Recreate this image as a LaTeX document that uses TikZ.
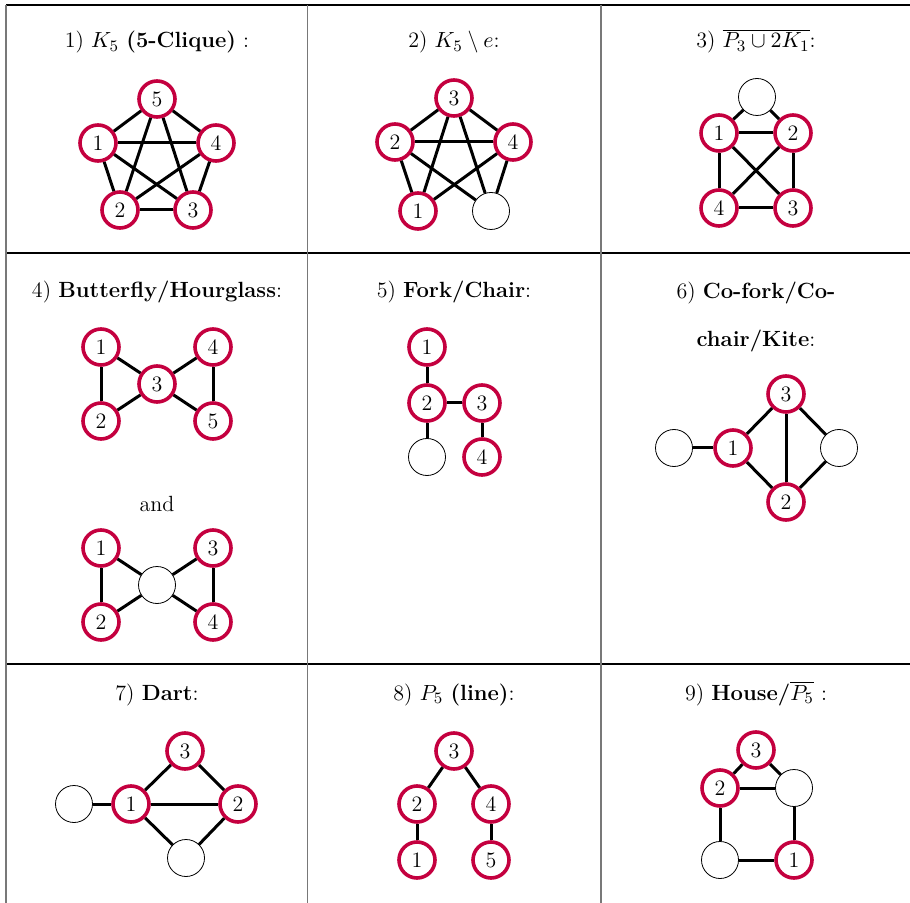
\documentclass[tikz,border=0pt]{standalone}
\usepackage{amsmath, amssymb}
\usepackage{tikz}
\usetikzlibrary{positioning}
\definecolor{VertexRed}{HTML}{C4003F}
\definecolor{RuleGray}{RGB}{120, 120, 120}

\begin{document}
\begin{tikzpicture}[x=0.5pt, y=-0.5pt, font=\fontsize{11pt}{13.6pt}\selectfont,
    vtx/.style={circle, draw=VertexRed, line width=1.8pt, fill=white, minimum size=18pt, inner sep=0pt},
    blank/.style={circle, draw=black, line width=0.4pt, fill=white, minimum size=18.5pt, inner sep=0pt},
    edge/.style={line width=1.5pt, black},
    title/.style={anchor=base, inner sep=0pt},
    rowline/.style={line width=0.7pt, black},
    colline/.style={line width=0.7pt, RuleGray}]
    \useasboundingbox (0,0) rectangle (910,903);

    % table rules
    \foreach \y in {5,253,664}
        \draw[rowline] (6,\y) -- (910,\y);
    \foreach \x in {6,307.5,601}
        \draw[colline] (\x,5) -- (\x,903);

    % 1) K5
    \node[title] (t1) at (157,48) {1) $K_5$ \textbf{(5-Clique)} :};
    \node[vtx] (a5) at (157,99) {5};
    \node[vtx] (a1) at (98,143) {1};
    \node[vtx] (a4) at (216,143) {4};
    \node[vtx] (a2) at (120,210) {2};
    \node[vtx] (a3) at (193,210) {3};
    \foreach \u/\v in {a1/a2,a1/a3,a1/a4,a1/a5,a2/a3,a2/a4,a2/a5,a3/a4,a3/a5,a4/a5}
        \draw[edge] (\u) -- (\v);

    % 2) K5 minus an edge
    \node[title] (t2) at (454,48) {2) $K_5 \setminus e$:};
    \node[vtx] (b3) at (454,98) {3};
    \node[vtx] (b2) at (395,142) {2};
    \node[vtx] (b4) at (513,142) {4};
    \node[vtx] (b1) at (418,211) {1};
    \node[blank] (bx) at (491,211) {};
    \foreach \u/\v in {b3/b2,b3/b4,b2/b4,b2/b1,b4/bx,b3/b1,b3/bx,b2/bx,b4/b1}
        \draw[edge] (\u) -- (\v);

    % 3) co-(P3 + 2K1)
    \node[title] (t3) at (756,48) {3) $\overline{P_3 \cup 2K_1}$:};
    \node[blank] (cx) at (757,97) {};
    \node[vtx] (c1) at (719,133) {1};
    \node[vtx] (c2) at (793,133) {2};
    \node[vtx] (c4) at (719,208) {4};
    \node[vtx] (c3) at (793,208) {3};
    \foreach \u/\v in {cx/c1,cx/c2,c1/c2,c1/c4,c2/c3,c4/c3,c1/c3,c2/c4}
        \draw[edge] (\u) -- (\v);

    % 4) butterfly, twice
    \node[title] (t4) at (157,298) {4) \textbf{Butterfly/Hourglass}:};
    \node[vtx] (d1) at (101,347) {1};
    \node[vtx] (d4) at (213,347) {4};
    \node[vtx] (d3) at (157,384) {3};
    \node[vtx] (d2) at (101,421) {2};
    \node[vtx] (d5) at (213,421) {5};
    \foreach \u/\v in {d1/d2,d1/d3,d2/d3,d3/d4,d3/d5,d4/d5}
        \draw[edge] (\u) -- (\v);
    \node (and) at (157,504) {and};
    \node[vtx] (e1) at (101,548) {1};
    \node[vtx] (e3) at (213,548) {3};
    \node[blank] (ex) at (157,585) {};
    \node[vtx] (e2) at (101,622) {2};
    \node[vtx] (e4) at (213,622) {4};
    \foreach \u/\v in {e1/e2,e1/ex,e2/ex,ex/e3,ex/e4,e3/e4}
        \draw[edge] (\u) -- (\v);

    % 5) fork
    \node[title] (t5) at (454,298) {5) \textbf{Fork/Chair}:};
    \node[vtx] (f1) at (427,347) {1};
    \node[vtx] (f2) at (427,403) {2};
    \node[vtx] (f3) at (482,403) {3};
    \node[blank] (fx) at (427,457) {};
    \node[vtx] (f4) at (482,457) {4};
    \foreach \u/\v in {f1/f2,f2/f3,f2/fx,f3/f4}
        \draw[edge] (\u) -- (\v);

    % 6) kite
    \node[align=center, inner sep=0pt] (t6) at (756,317) {6) \textbf{Co-fork/Co-}\\[10.4pt]\textbf{chair/Kite}:};
    \node[vtx] (g3) at (786,394) {3};
    \node[vtx] (g1) at (733,448) {1};
    \node[vtx] (g2) at (786,502) {2};
    \node[blank] (gl) at (674,448) {};
    \node[blank] (gr) at (839,448) {};
    \foreach \u/\v in {gl/g1,g1/g3,g1/g2,g3/g2,g3/gr,g2/gr}
        \draw[edge] (\u) -- (\v);

    % 7) dart
    \node[title] (t7) at (157,700) {7) \textbf{Dart}:};
    \node[vtx] (h3) at (185,751) {3};
    \node[vtx] (h1) at (131,804) {1};
    \node[vtx] (h2) at (238,804) {2};
    \node[blank] (hl) at (74,804) {};
    \node[blank] (hb) at (186,858) {};
    \foreach \u/\v in {hl/h1,h1/h3,h1/h2,h3/h2,h1/hb,h2/hb}
        \draw[edge] (\u) -- (\v);

    % 8) P5
    \node[title] (t8) at (454,700) {8) $P_5$ \textbf{(line)}:};
    \node[vtx] (k3) at (454,751) {3};
    \node[vtx] (k2) at (417,804) {2};
    \node[vtx] (k4) at (491,804) {4};
    \node[vtx] (k1) at (417,860) {1};
    \node[vtx] (k5) at (491,860) {5};
    \foreach \u/\v in {k3/k2,k3/k4,k2/k1,k4/k5}
        \draw[edge] (\u) -- (\v);

    % 9) house
    \node[title] (t9) at (756,700) {9) \textbf{House/}$\overline{P_5}$ :};
    \node[vtx] (m3) at (756,750) {3};
    \node[vtx] (m2) at (720,788) {2};
    \node[blank] (mr) at (794,788) {};
    \node[blank] (ml) at (720,860) {};
    \node[vtx] (m1) at (794,860) {1};
    \foreach \u/\v in {m2/m3,m3/mr,m2/mr,m2/ml,ml/m1,m1/mr}
        \draw[edge] (\u) -- (\v);
\end{tikzpicture}
\end{document}
